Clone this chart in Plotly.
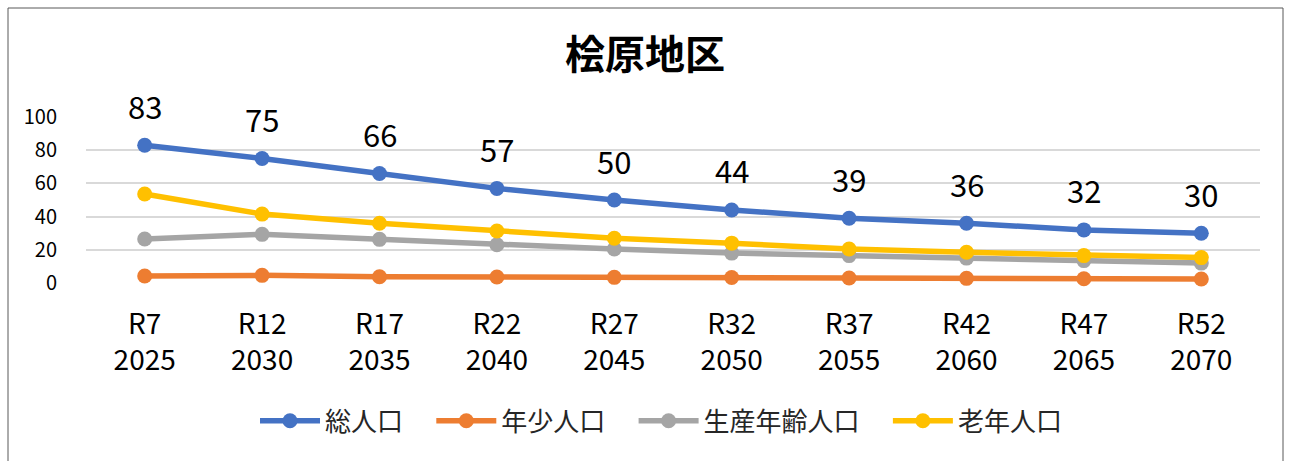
import plotly.graph_objects as go

# 年次区分
eras = ['R7', 'R12', 'R17', 'R22', 'R27', 'R32', 'R37', 'R42', 'R47', 'R52']
years = ['2025', '2030', '2035', '2040', '2045', '2050', '2055', '2060', '2065', '2070']
categories = [f'{e}<br>{y}' for e, y in zip(eras, years)]

# 人口推計（人）
total_pop = [83, 75, 66, 57, 50, 44, 39, 36, 32, 30]
youth_pop = [4.2, 4.6, 3.8, 3.6, 3.4, 3.3, 3.0, 2.8, 2.6, 2.4]
working_pop = [26.5, 29.3, 26.3, 23.0, 20.5, 18.0, 16.5, 15.0, 13.5, 12.0]
elderly_pop = [53.6, 41.5, 36.0, 31.3, 27.0, 24.0, 20.5, 18.5, 16.5, 15.3]

y_ticks = [0, 20, 40, 60, 80, 100]

FONT = 'Noto Sans CJK JP'
PAD = '\u00a0' * 4  # 凡例の項目間隔

series = [
    ('総人口', total_pop, '#4472C4'),
    ('年少人口', youth_pop, '#ED7D31'),
    ('生産年齢人口', working_pop, '#A5A5A5'),
    ('老年人口', elderly_pop, '#FFC000'),
]

fig = go.Figure()

for name, vals, color in series:
    fig.add_trace(go.Scatter(
        x=categories,
        y=vals,
        mode='lines+markers',
        name=name + PAD,
        line=dict(color=color, width=5.5),
        marker=dict(size=15, color=color),
        cliponaxis=False,
    ))

# 総人口のデータラベル
for cat, val in zip(categories, total_pop):
    fig.add_annotation(
        x=cat, y=val, text=f'{val:.0f}',
        showarrow=False, yshift=40, yanchor='middle',
        font=dict(size=31, color='black', family=FONT),
    )

# 外枠
ml, mr, mt, mb = 86, 30, 117, 178
pw, ph = 1290 - ml - mr, 461 - mt - mb
fig.add_shape(
    type='rect', xref='paper', yref='paper',
    x0=-(ml - 8) / pw, x1=1 + (mr - 7) / pw,
    y0=-(mb + 5) / ph, y1=1 + (mt - 8) / ph,
    line=dict(color='#595959', width=1),
)

fig.update_layout(
    width=1290,
    height=461,
    margin=dict(l=ml, r=mr, t=mt, b=mb),
    paper_bgcolor='white',
    plot_bgcolor='white',
    font=dict(family=FONT, color='black'),
    title=dict(
        text='<b>桧原地区</b>',
        x=0.5, xref='container', xanchor='center',
        y=1 - 55 / 461, yanchor='middle',
        font=dict(size=40, family=FONT, color='black'),
    ),
    showlegend=True,
    legend=dict(
        orientation='h',
        x=0.5, xanchor='center',
        y=-0.83, yanchor='middle',
        font=dict(size=26, family=FONT, color='#262626'),
        itemwidth=60,
        traceorder='normal',
    ),
)

fig.update_xaxes(
    range=[-0.5, len(categories) - 0.5],
    showgrid=False,
    showline=False,
    ticks='',
    automargin=False,
    tickfont=dict(size=28, family=FONT, color='black'),
    ticklabelstandoff=22,
)

fig.update_yaxes(
    range=[0, 100],
    tickvals=y_ticks,
    showgrid=True,
    gridcolor='#D9D9D9',
    gridwidth=1.5,
    zeroline=False,
    showline=False,
    automargin=False,
    tickfont=dict(size=20, family=FONT, color='black'),
    ticklabelstandoff=28,
)

fig.write_html(
    'out.html',
    config={'displayModeBar': False},
    post_script="document.body.style.margin='0';",
)
